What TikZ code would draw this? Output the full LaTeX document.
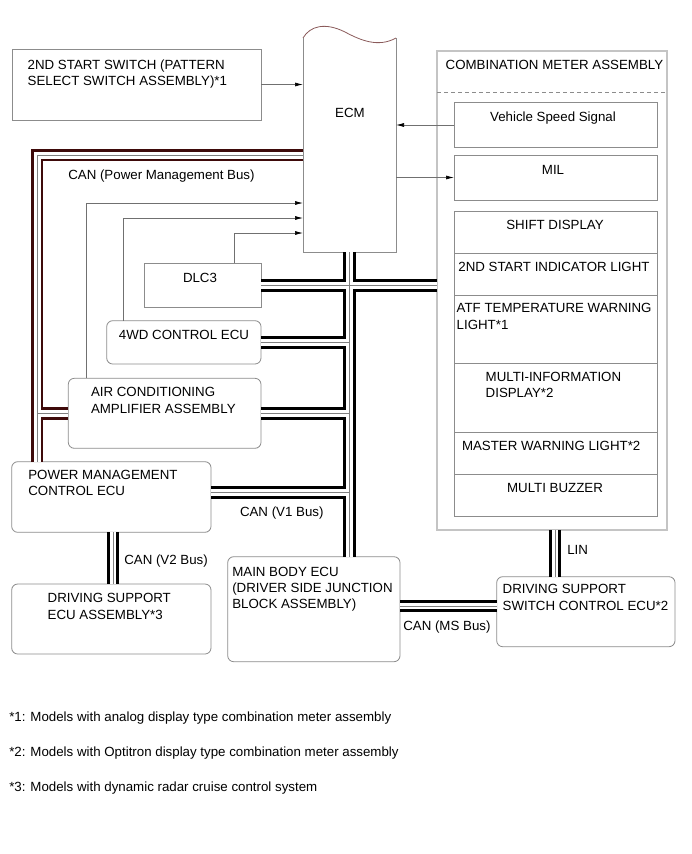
\documentclass[tikz,border=0pt]{standalone}
\usepackage{fontspec}
\setmainfont{Liberation Sans}
\usetikzlibrary{arrows.meta}
\definecolor{boxgray}{HTML}{8C8C8C}
\definecolor{cmagray}{HTML}{C4C4C4}
\definecolor{arrgray}{HTML}{707070}
\definecolor{pmred}{HTML}{3E0A0A}
\definecolor{wavec}{HTML}{8A5A5A}
\begin{document}
\begin{tikzpicture}[x=1pt,y=-1pt,
  every node/.style={font=\fontsize{13.3}{16.3}\selectfont, inner sep=0pt, outer sep=0pt},
  box/.style={draw=boxgray, line width=0.8pt, fill=white},
  rbox/.style={box, rounded corners=6pt},
  txt/.style={align=left, anchor=north west},
  lbl/.style={anchor=base west},
  ctr/.style={anchor=base},
  arr/.style={draw=arrgray, line width=0.7pt, -{Latex[length=8pt,width=4pt,color=black]}}]
\useasboundingbox (0,0) rectangle (691,854);

% ---------- boxes ----------
\node[box, minimum width=249pt, minimum height=71pt] (ssw) at (136.5,84.5) {};
\node[draw=none, minimum width=93pt, minimum height=214.3pt] (ecm) at (349.5,145.15) {};
\draw[boxgray, line width=0.8pt, fill=white] (ecm.north east) -- (ecm.south east) -- (ecm.south west) -- (ecm.north west);
\draw[wavec, line width=0.8pt] (ecm.north west) .. controls (310,26) and (325,22) .. (345,32) .. controls (360,40) and (378,48) .. (ecm.north east);

\node[draw=cmagray, line width=1.8pt, fill=white, minimum width=230pt, minimum height=479pt] (cma) at (552,290.5) {};
\draw[boxgray, line width=0.7pt, dash pattern=on 4pt off 3pt] (cma.west |- 0,92.7) -- (cma.east |- 0,92.7);

\node[box, minimum width=203.5pt, minimum height=44.6pt] (vss) at (555.75,125) {};
\node[box, minimum width=203.5pt, minimum height=45pt] (mil) at (555.75,177.5) {};
\node[box, minimum width=203.5pt, minimum height=41.6pt] (shift) at (555.75,232.5) {};
\node[box, minimum width=203.5pt, minimum height=41.7pt] (ind) at (555.75,274.15) {};
\node[box, minimum width=203.5pt, minimum height=68.3pt] (atf) at (555.75,329.15) {};
\node[box, minimum width=203.5pt, minimum height=69pt] (mid) at (555.75,397.8) {};
\node[box, minimum width=203.5pt, minimum height=42pt] (mwl) at (555.75,453.3) {};
\node[box, minimum width=203.5pt, minimum height=41.7pt] (buz) at (555.75,495.15) {};

\node[box, minimum width=116.7pt, minimum height=44pt] (dlc) at (202.65,285.3) {};
\node[rbox, minimum width=154.3pt, minimum height=43.3pt] (fwd) at (183.85,342.35) {};
\node[rbox, minimum width=192.7pt, minimum height=70pt] (ac) at (164.65,413.3) {};
\node[rbox, minimum width=199.3pt, minimum height=70.6pt] (pm) at (111.35,497) {};
\node[rbox, minimum width=199.3pt, minimum height=70pt] (ds) at (111.35,619) {};
\node[rbox, minimum width=172.3pt, minimum height=105pt] (mb) at (313.85,609.2) {};
\node[rbox, minimum width=178.3pt, minimum height=70pt] (dss) at (585.85,611.7) {};

% ---------- bus coordinates ----------
\coordinate (pmc) at (37,155);
\coordinate (v1) at ([yshift=4.5pt]pm.east);
\coordinate (ms) at ([yshift=5.7pt]dss.west);
\coordinate (lin) at ([xshift=3pt]cma.south);
\coordinate (v2) at ([xshift=1.7pt]pm.south);

% ---------- black buses ----------
\foreach \w/\c in {12.5/black,6.5/white,0.8/gray} {
  \draw[line width=\w pt, draw=\c]
    (ecm.south) -- (ecm.south |- mb.north)
    (dlc.east) -- (dlc.east -| cma.west)
    (fwd.east) -- (fwd.east -| ecm.south)
    (ac.east) -- (ac.east -| ecm.south)
    (v1) -- (v1 -| ecm.south)
    (ms) -- (ms -| mb.east)
    (lin) -- (lin |- dss.north)
    (v2) -- (v2 |- ds.north);
}
% ---------- power management bus ----------
\foreach \w/\c in {12.5/pmred,7/white,0.8/gray} {
  \draw[line width=\w pt, draw=\c, line join=miter]
    (pmc -| ecm.west) -- (pmc) -- (pmc |- pm.north)
    (pmc |- ac.west) -- (ac.west);
}

% ---------- arrows ----------
\coordinate (in1) at (86,203);
\coordinate (in2) at (123.3,218);
\coordinate (in3) at (234.3,233);
\draw[arr] (ssw.east) -- (ssw.east -| ecm.west);
\draw[arr] (vss.west) -- (vss.west -| ecm.east);
\draw[arr] (ecm.east |- mil.west) -- (mil.west);
\draw[arr] (in1 |- ac.north) |- (in1 -| ecm.west);
\draw[arr] (in2 |- fwd.north) |- (in2 -| ecm.west);
\draw[arr] (in3 |- dlc.north) |- (in3 -| ecm.west);

% ---------- texts ----------
\node[txt] (ssw-t) at (27.7,60) {2ND START SWITCH (PATTERN\\SELECT SWITCH ASSEMBLY)*1};
\node[ctr] (ecm-t) at (350,117.3) {ECM};
\node[lbl] (cma-t) at (445.7,69) {COMBINATION METER ASSEMBLY};
\node[ctr] (vss-t) at (553,121.7) {Vehicle Speed Signal};
\node[ctr] (mil-t) at (553,174.7) {MIL};
\node[ctr] (shift-t) at (555,229.8) {SHIFT DISPLAY};
\node[ctr] (ind-t) at (554,271.4) {2ND START INDICATOR LIGHT};
\node[txt] (atf-t) at (456.7,303.5) {ATF TEMPERATURE WARNING\\LIGHT*1};
\node[txt] (mid-t) at (485.7,372) {MULTI-INFORMATION\\DISPLAY*2};
\node[lbl] (mwl-t) at (462,450.8) {MASTER WARNING LIGHT*2};
\node[ctr] (buz-t) at (555,492) {MULTI BUZZER};
\node[ctr] (dlc-t) at (200,282) {DLC3};
\node[ctr] (fwd-t) at (184,339.8) {4WD CONTROL ECU};
\node[txt] (ac-t) at (91,387.5) {AIR CONDITIONING\\AMPLIFIER ASSEMBLY};
\node[txt] (pm-t) at (28.3,470) {POWER MANAGEMENT\\CONTROL ECU};
\node[txt] (ds-t) at (47.7,593.5) {DRIVING SUPPORT\\ECU ASSEMBLY*3};
\node[txt] (mb-t) at (232.3,567) {MAIN BODY ECU\\(DRIVER SIDE JUNCTION\\BLOCK ASSEMBLY)};
\node[txt] (dss-t) at (502.7,584.5) {DRIVING SUPPORT\\SWITCH CONTROL ECU*2};

\node[lbl] (pmbus-t) at (68.3,179.8) {CAN (Power Management Bus)};
\node[lbl] (v1-t) at (240,516.5) {CAN (V1 Bus)};
\node[lbl] (v2-t) at (124.3,564) {CAN (V2 Bus)};
\node[lbl] (ms-t) at (403.3,630.8) {CAN (MS Bus)};
\node[lbl] (lin-t) at (567.3,554.8) {LIN};

\node[lbl] (fn1) at (9.3,721.5) {*1: Models with analog display type combination meter assembly};
\node[lbl] (fn2) at (9.3,756.5) {*2: Models with Optitron display type combination meter assembly};
\node[lbl] (fn3) at (9.3,791.5) {*3: Models with dynamic radar cruise control system};
\end{tikzpicture}
\end{document}
